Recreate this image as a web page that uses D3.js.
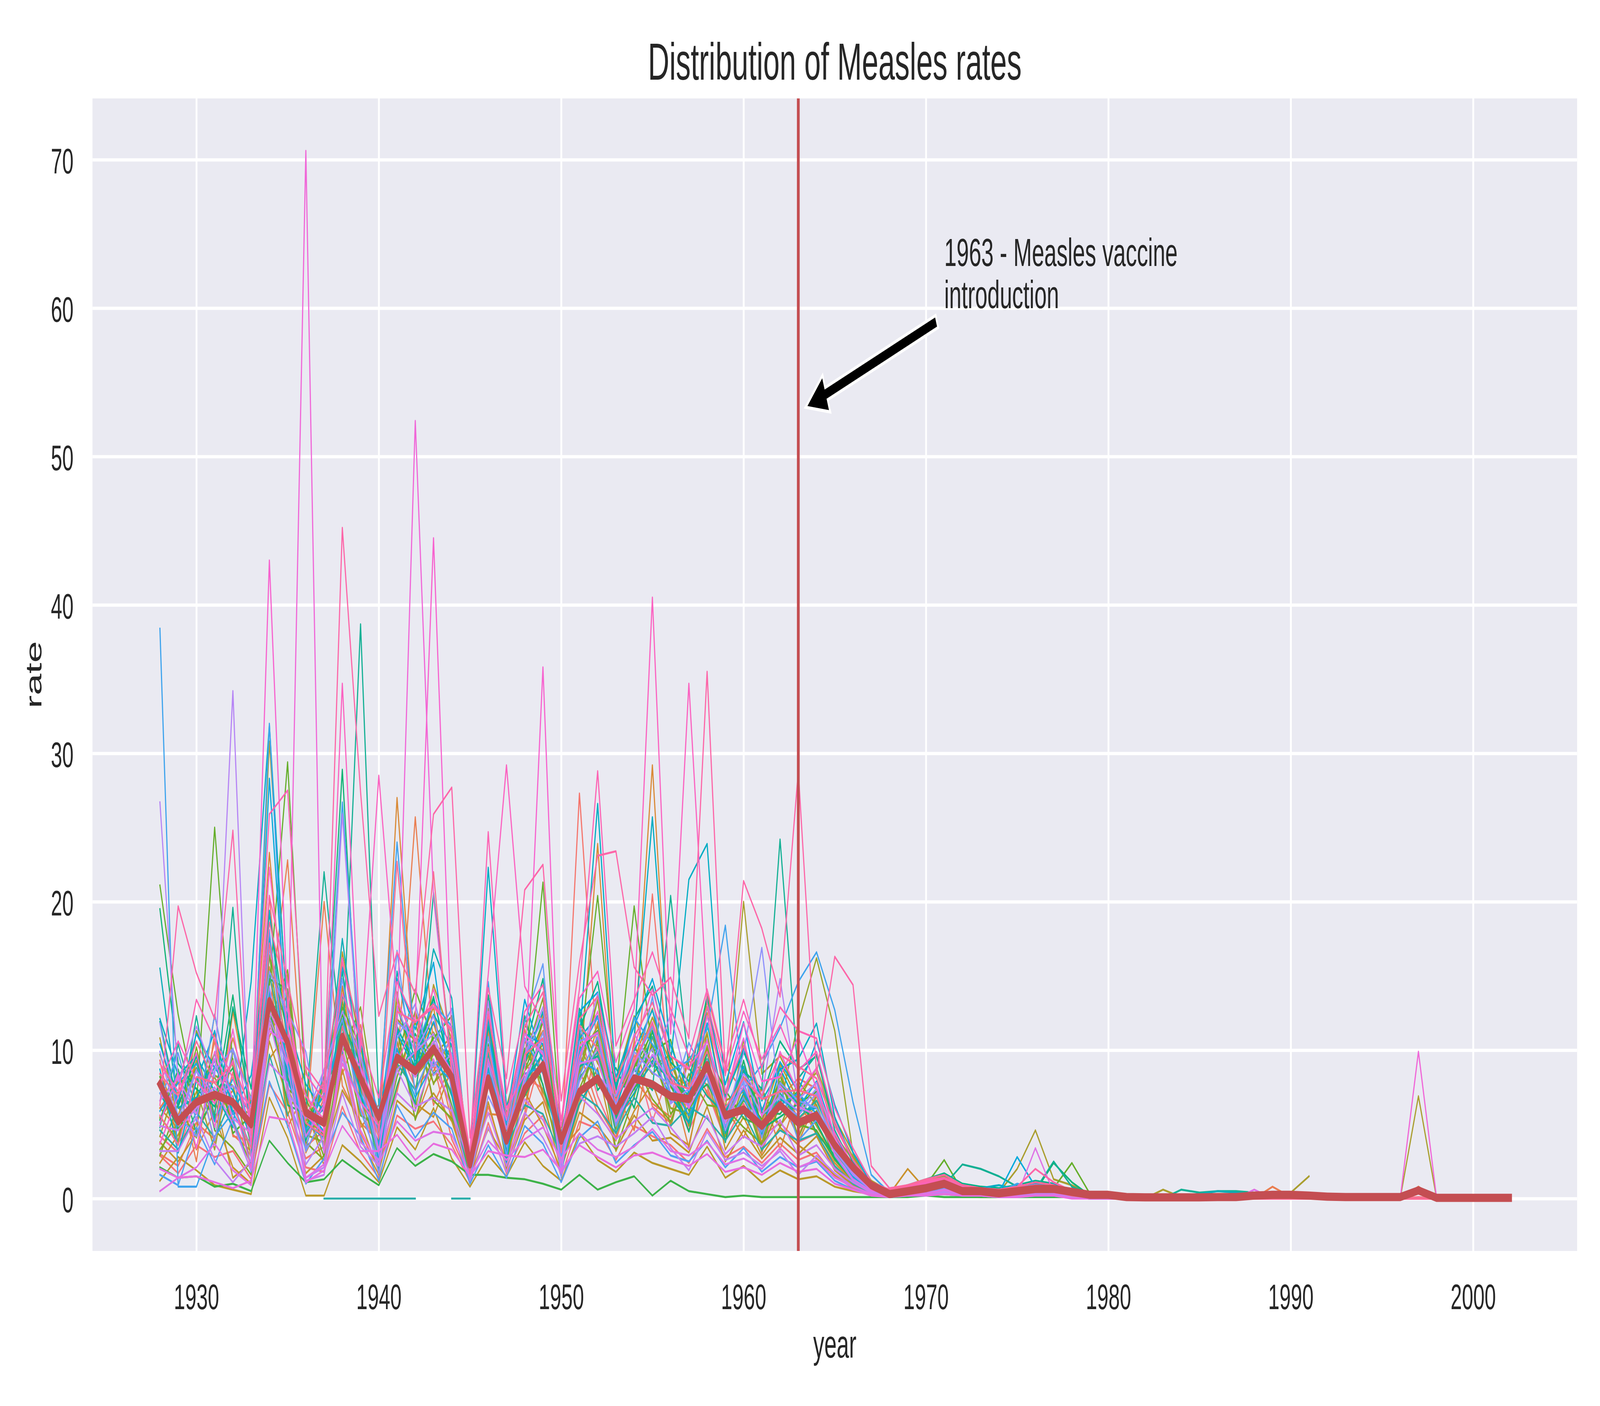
<!DOCTYPE html>
<html>
<head>
<meta charset="utf-8">
<script src="https://cdn.jsdelivr.net/npm/d3@7"></script>
<style>
  html, body { margin: 0; padding: 0; width: 100%; height: 100%; overflow: hidden; background: #ffffff; }
  #chart { width: 100vw; height: 100vh; }
  svg { display: block; width: 100%; height: 100%; }
  text { font-family: "Liberation Sans", Arial, "DejaVu Sans", sans-serif; fill: #262626; }
</style>
</head>
<body>
<div id="chart"></div>
<script>
// years 1928 .. 2002, one value per year in every state array
const years = d3.range(1928, 2003);
const xTicks = [1930, 1940, 1950, 1960, 1970, 1980, 1990, 2000];
const yTicks = [0, 10, 20, 30, 40, 50, 60, 70];

// per-state measles rates (one row = 25 years)
const st01 = [4.2,3.1,6.8,9.4,5.2, 2.8,14.1,8.3,3.5,4.6, 12.7,6.1,3.2,10.4,7.5, 8.9,6.2,1.8,9.6,3.1, 8.2,7.4,2.6,11.3,6.9,
  4.1,9.7,5.2,8.8,4.6, 7.3,3.9,6.4,4.2,5.1, 3.8,4.4,2.1,1.2,0.5, 0.2,0.3,0.4,0.8,0.3, 0.2,0.1,0.2,0.4,0.5,
  0.2,0.1,0.1,0,0, 0,0,0,0,0, 0,0.1,0.1,0,0, 0,0,0,0,0.1, 0,0,0,0,0];
const st29 = [2.9,1.7,3.6,2.8,3.2, 1.3,7.7,5.8,2.1,1.8, 6.2,3.1,1.4,5.6,4.7, 5.2,3.6,1.1,5.1,1.7, 4.4,5.6,1.5,5.2,4.7,
  2.6,4.9,4.2,3.6,2.4, 4.7,2.8,3.5,2.4,3.7, 2.6,3.1,1.5,0.7,0.3, 0.1,0.2,0.3,0.4,0.2, 0.2,0.1,0.2,0.3,0.2,
  0.1,0,0,0,0, 0,0,0,0,0, 0,0,0,0,0, 0,0,0,0,0, 0,0,0,0,0];
const st02 = [3.0,2.2,5.1,4.0,8.5, 1.8,20.4,6.4,2.7,3.5, 9.8,4.4,2.0,7.3,12.6, 9.1,4.0,1.3,6.2,2.4, 5.5,10.1,3.3,27.3,9.2,
  5.6,6.7,20.5,7.5,6.3, 13.8,8.9,7.2,3.6,6.8, 8.1,7.4,4.2,2.3,0.8, 0.3,0.5,0.6,0.9,0.4, 0.3,0.2,0.3,0.6,0.4,
  0.3,0.1,0.1,0,0, 0,0,0,0,0, 0,0.1,0,0,0, 0,0,0,0,0, 0,0,0,0,0];
const st35 = [9.3,3.8,5.1,10.6,4.2, 3.9,11.3,15.1,3.6,6.8, 8.4,11.7,3.9,7.2,12.6, 6.3,9.2,1.8,11.1,2.7, 5.8,12.1,2.6,9.9,6.2,
  4.1,10.6,6.2,5.1,9.3, 7.6,3.9,8.8,3.1,6.6, 4.2,7.1,3.3,1.9,0.7, 0.5,0.7,1.0,1.3,0.6, 0.5,0.4,0.6,0.8,0.7,
  0.3,0.1,0.1,0,0, 0,0,0,0,0, 0,0,0,0,0, 0,0,0,0,0, 0,0,0,0,0];
const st03 = [6.1,7.9,2.5,11.2,4.3, 3.2,12.5,22.8,4.9,20.0, 7.6,5.1,3.9,8.8,25.7, 10.2,5.3,2.1,11.4,4.0, 9.3,6.8,3.5,8.6,5.8,
  3.9,8.1,6.4,5.5,9.7, 7.1,4.6,6.9,5.2,7.7, 5.4,6.3,3.1,1.6,0.6, 0.3,0.4,0.5,0.7,0.3, 0.2,0.1,0.3,0.5,0.4,
  0.2,0.1,0.1,0,0, 0,0,0,0,0, 0,0.8,0.1,0,0, 0,0,0,0,0.8, 0,0,0,0,0];
const st36 = [5.4,7.2,3.3,5.9,10.8, 6.4,15.6,4.8,7.3,3.4, 13.5,4.8,6.3,11.6,5.3, 8.6,10.8,2.9,5.7,5.6, 11.4,6.9,3.3,4.7,10.8,
  7.2,4.6,10.9,8.3,3.4, 9.9,6.2,4.1,7.4,3.3, 7.1,4.4,3.2,1.6,0.8, 0.4,0.6,0.9,1.1,0.7, 0.4,0.3,0.5,0.7,0.6,
  0.2,0.1,0.1,0,0, 0,0,0,0,0, 0,0,0,0,0, 0,0,0,0,0, 0,0,0,0,0];
const st04 = [8.4,5.6,9.3,3.7,12.6, 6.2,23.3,9.8,3.1,5.7, 14.3,8.6,4.4,27.0,9.6, 11.8,7.9,2.9,8.3,5.5, 6.1,12.4,4.8,7.9,23.9,
  6.1,10.4,29.2,8.3,7.6, 12.5,5.3,8.2,6.1,4.9, 6.6,4.3,2.4,1.1,0.5, 0.2,0.3,0.4,0.6,0.2, 0.2,0.1,0.2,0.3,0.3,
  0.1,0.1,0,0,0, 0,0,0,0,0, 0,0.1,0,0,0, 0,0,0,0,0, 0,0,0,0,0];
const st37 = [6.1,4.7,9.2,5.5,7.3, 4.1,10.9,13.8,4.1,7.9, 14.2,6.6,4.4,8.8,9.7, 12.9,5.6,2.4,7.9,4.4, 9.1,11.3,3.7,6.4,11.9,
  5.6,9.3,12.8,6.6,7.8, 11.2,4.7,9.3,3.7,8.9, 3.8,6.6,4.3,2.6,1.0, 0.5,0.8,1.1,1.4,0.8, 0.6,0.5,0.7,0.9,0.8,
  0.3,0.2,0.1,0,0, 0,0,0,0,0, 0,0,0,0,0, 0,0,0,0,0, 0,0,0,0,0];
const st05 = [2.4,4.3,7.2,5.6,2.1, 1.0,9.4,11.2,6.3,2.2, 8.7,4.0,1.6,9.9,6.4, 5.5,8.8,1.5,4.7,2.6, 7.2,4.9,1.9,6.3,8.8,
  3.2,5.9,7.8,4.4,3.6, 9.1,3.3,5.5,2.9,4.8, 3.6,2.7,1.6,0.9,0.4, 0.3,2.0,0.6,0.5,0.4, 0.3,0.2,0.3,0.5,0.3,
  0.2,0.1,0.1,0,0, 0,0,0,0,0, 0,0,0,0,0, 0,0,0,0,0, 0,0,0,0,0];
const st30 = [3.8,2.5,4.4,6.9,1.4, 2.4,10.6,6.7,1.7,2.9, 7.3,5.2,1.8,6.6,5.5, 7.1,5.2,1.4,6.5,2.0, 5.3,6.5,2.0,5.8,4.9,
  3.3,5.6,3.9,4.1,3.1, 6.2,2.5,4.6,2.7,4.1, 3.0,4.2,1.9,0.9,0.4, 0.2,0.3,0.4,0.5,0.3, 0.2,0.2,0.2,0.4,0.3,
  0.1,0,0,0,0, 0.1,0,0,0,0, 0,0,0,0,0, 0,0,0,0,0, 0,0,0,0,0];
const st06 = [1.2,2.8,1.9,0.9,0.6, 0.3,6.8,4.1,0.2,0.2, 3.6,2.5,1.1,4.8,3.3, 6.1,2.7,0.8,2.9,1.5, 3.8,2.2,1.2,4.4,2.6,
  1.8,3.1,2.4,2.0,1.6, 3.5,1.4,2.2,1.1,1.9, 1.3,1.5,0.8,0.5,0.3, 0.1,0.2,0.2,0.3,0.2, 0.1,0.1,0.2,0.2,0.2,
  0.1,0,0,0,0, 0,0,0,0,0, 0,0,0,0,0, 0,0,0,0,0, 0,0,0,0,0];
const st38 = [10.8,5.3,4.6,12.4,6.2, 5.7,17.1,9.9,5.4,4.3, 16.6,10.3,3.1,13.9,7.2, 14.4,10.7,2.1,12.3,3.9, 8.6,10.4,3.8,12.1,9.1,
  7.8,12.3,8.9,9.7,5.4, 13.4,6.6,7.2,5.3,9.1, 6.6,8.8,5.4,3.1,1.2, 0.5,0.9,1.2,1.6,0.9, 0.7,0.6,0.8,1.1,0.9,
  0.4,0.2,0.1,0,0, 0,0,0,0,0, 0,0,0,0,0, 0,0,0,0,0, 0,0,0,0,0];
const st07 = [5.5,3.9,8.1,6.7,9.2, 4.4,30.8,12.3,5.2,6.9, 11.5,7.3,4.8,13.4,8.2, 9.7,10.9,2.4,12.1,3.7, 10.6,8.5,3.1,9.4,11.6,
  6.8,8.9,12.2,9.1,6.2, 10.3,5.9,20.0,8.4,9.6, 7.1,8.5,5.1,2.8,0.9, 0.4,0.6,0.8,1.0,0.6, 0.5,0.4,2.0,4.6,1.3,
  0.9,0.3,0.2,0,0, 0.6,0.1,0.1,0,0, 0.1,0.2,0.4,1.5,null, 0,0,0,0,6.9, 0,0,0,0,0];
const st39 = [4.2,8.1,7.4,3.3,9.9, 6.8,13.7,5.6,8.7,3.4, 11.9,7.4,5.2,10.6,6.1, 11.2,8.9,2.6,9.3,6.2, 10.7,7.2,4.4,10.3,7.7,
  6.4,7.7,11.6,4.8,9.6, 8.1,3.8,10.7,4.6,7.3, 6.8,4.9,2.8,1.3,0.6, 0.4,0.7,1.0,1.2,0.7, 0.5,0.4,0.6,0.8,0.7,
  0.3,0.1,0.1,0,0, 0,0,0,0,0, 0,0,0,0,0, 0,0,0,0,0, 0,0,0,0,0];
const st08 = [9.7,6.2,4.1,8.3,7.6, 2.9,16.4,7.5,4.3,3.8, 13.2,9.4,2.7,12.1,10.6, 7.8,9.1,1.9,7.7,4.8, 11.7,9.9,2.4,8.1,13.4,
  5.3,7.4,9.6,6.1,5.7, 11.1,4.2,7.6,3.4,6.2, 11.9,16.2,11.3,3.0,0.6, 0.2,0.4,0.5,0.7,0.3, 0.3,0.2,0.2,0.4,0.6,
  0.3,0.1,0.1,0,0, 0,0,0,0,0, 0,0,0,0,0, 0,0,0,0,0, 0,0,0,0,0];
const st40 = [7.6,3.8,11.3,8.2,5.1, 2.3,16.4,11.2,3.9,7.6, 9.8,12.9,4.8,8.9,12.6, 7.7,10.4,1.6,12.8,3.8, 9.2,12.6,2.1,8.6,13.4,
  4.7,10.2,8.4,9.8,4.9, 10.1,5.8,6.6,7.4,4.8, 7.9,6.3,3.1,1.8,0.7, 0.6,0.8,1.1,1.5,0.8, 0.6,0.5,0.7,1.0,0.8,
  0.3,0.2,0.1,0,0, 0,0,0,0,0, 0,0,0,0,0, 0,0,0,0,0, 0,0,0,0,0];
const st09 = [3.3,5.1,10.2,4.6,3.4, 1.6,11.8,15.4,3.8,2.6, 9.1,6.8,3.0,8.2,11.9, 6.6,5.4,2.7,10.1,2.2, 9.4,13.5,2.2,7.4,10.3,
  4.7,9.3,6.7,5.2,8.4, 6.3,6.1,4.8,3.7,8.3, 4.1,6.9,3.5,1.8,0.7, 0.3,0.4,0.6,0.8,0.4, 0.3,0.2,0.3,0.6,0.5,
  0.2,0.1,0.1,0,0, 0,0,0,0,0, 0,0,0,0,0, 0,0,0,0,0, 0,0,0,0,0];
const st41 = [2.9,6.4,8.8,6.6,9.4, 4.2,12.3,7.4,6.3,2.8, 10.7,5.6,4.9,11.4,5.3, 9.9,7.1,1.3,7.9,4.3, 10.1,7.7,2.1,6.8,10.6,
  3.3,6.9,10.4,5.7,7.2, 8.6,4.4,7.1,3.2,8.4, 4.7,5.9,2.6,1.2,0.5, 0.4,0.6,0.8,1.0,0.6, 0.5,0.4,0.5,0.7,0.6,
  0.2,0.1,0.1,0,0, 0,0,0,0,0, 0,0,0,0,0, 0,0,0,0,0, 0,0,0,0,0];
const st10 = [21.1,12.4,6.3,25.0,8.9, 3.6,14.2,29.4,6.7,4.1, 12.9,10.2,5.5,9.3,14.1, 10.6,6.3,2.2,13.7,5.1, 8.6,21.3,4.1,9.8,20.4,
  7.2,19.7,9.9,10.7,5.9, 8.4,4.5,6.6,5.4,7.9, 5.0,4.6,2.6,1.4,0.6, 0.3,0.5,0.9,2.6,0.5, 0.4,0.3,0.4,0.6,0.7,
  2.4,0.3,0.1,0,0, 0,0,0,0,0, 0,0,0,0,0, 0,0,0,0,0, 0,0,0,0,0];
const st42 = [8.2,4.6,6.7,9.8,4.4, 5.6,14.8,14.1,4.8,8.2, 12.4,7.9,2.6,9.6,8.9, 10.8,12.3,2.4,10.4,3.2, 8.6,11.9,2.9,12.4,8.1,
  6.7,8.8,11.2,7.6,5.1, 9.8,7.3,5.4,4.9,7.7, 6.4,7.2,3.8,1.5,0.6, 0.5,0.8,1.0,1.3,0.7, 0.6,0.5,0.6,0.9,0.7,
  0.3,0.1,0.1,0,0, 0,0,0,0,0, 0,0,0,0,0, 0,0,0,0,0, 0,0,0,0,0];
const st11 = [2.1,1.4,1.5,0.8,1.0, 0.5,3.9,2.4,1.1,1.3, 2.6,1.7,0.9,3.4,2.2, 3.0,2.5,1.6,1.6,1.4, 1.3,1.0,0.6,1.6,0.6,
  1.1,1.5,0.2,1.2,0.5, 0.3,0.1,0.2,0.1,0.1, 0.1,0.1,0.1,0.1,0.1, 0.1,0.1,0.2,0.1,0.1, 0.1,0.1,0.1,0.1,0.1,
  0.1,0,0,0,0, 0,0,0,0,0, 0,0,0,0,0, 0,0,0,0,0, 0,0,0,0,0];
const st43 = [5.3,8.7,4.4,7.1,8.8, 3.6,12.9,6.3,5.7,5.1, 11.9,9.1,3.1,7.6,11.1, 8.4,9.6,1.8,11.6,5.8, 6.9,9.3,2.6,9.9,11.3,
  5.6,7.4,9.1,8.1,6.7, 7.7,5.6,8.6,5.8,5.7, 7.3,4.4,2.9,1.2,0.4, 0.5,0.7,0.9,1.2,0.7, 0.5,0.4,0.6,0.8,0.6,
  0.2,0.1,0.1,0,0, 0,0,0,0,0, 0,0,0,0,0, 0,0,0,0,0, 0,0,0,0,0];
const st12 = [19.5,9.1,7.4,6.2,13.7, 5.3,17.6,8.2,4.5,7.9, 28.9,7.1,3.7,11.6,8.8, 13.5,8.4,2.0,9.2,3.9, 12.3,7.6,3.6,12.8,7.3,
  8.8,6.1,11.3,7.9,4.5, 9.9,3.8,9.3,4.7,5.5, 6.4,5.1,2.7,1.3,0.5, 0.2,0.3,0.4,1.3,0.6, 0.3,0.2,0.3,0.5,2.4,
  1.1,0.2,0.1,0,0, 0,0,0,0,0, 0,0,0,0,0, 0,0,0,0,0, 0,0,0,0,0];
const st44 = [11.9,6.2,9.6,4.7,12.9, 7.4,19.2,10.7,3.9,8.1, 15.3,6.8,4.7,12.9,9.4, 13.6,8.1,2.9,13.7,4.9, 9.9,14.8,3.2,11.4,14.6,
  7.3,12.1,14.3,9.2,7.9, 13.6,6.9,9.9,6.8,10.6, 8.7,9.6,5.2,2.4,0.9, 0.6,0.9,1.3,1.7,1.0, 0.8,0.7,0.9,1.2,1.0,
  0.4,0.2,0.2,0,0, 0,0,0,0,0, 0,0,0,0,0, 0,0,0,0,0, 0,0,0,0,0];
const st13 = [7.1,4.8,12.3,5.4,19.6, 3.1,13.4,10.7,5.9,22.0, 9.8,38.7,6.3,10.1,6.4, 20.6,9.2,2.5,11.8,4.5, 7.5,10.8,3.8,8.9,9.6,
  5.4,8.7,7.3,20.4,8.8, 6.9,5.7,8.6,7.4,24.2, 8.1,9.7,4.6,2.1,0.8, 0.4,0.6,1.2,0.9,2.3, 2.0,1.5,0.8,0.6,2.5,
  0.8,0.3,0.2,0,0, 0,0.6,0.4,0.5,0.5, 0.4,0.2,0.1,0,0, 0,0,0,0,0, 0,0,0,0,0];
const st45 = [4.8,10.4,5.9,8.9,6.6, 5.1,15.2,8.8,4.4,6.4, 12.1,8.3,1.9,9.1,7.3, 10.1,6.9,1.1,9.8,3.7, 7.8,9.7,1.6,8.1,9.9,
  4.4,8.1,10.9,6.9,5.2, 9.4,4.8,6.7,4.3,7.1, 5.4,6.6,3.6,1.9,0.8, 0.5,0.8,1.1,1.4,0.8, 0.6,0.5,0.7,0.9,0.8,
  0.3,0.1,0.1,0,0, 0,0,0,0,0, 0,0,0,0,0, 0,0,0,0,0, 0,0,0,0,0];
const st14 = [4.6,3.3,5.8,4.1,6.9, 2.2,9.7,5.6,null,0, 0,0,0,0,0, null,0,0,null,3.4, 6.3,5.7,2.9,7.1,6.2,
  4.4,6.8,5.1,4.9,6.2, 5.4,3.9,5.8,3.3,4.6, 3.9,4.4,2.2,1.0,0.4, 0.2,0.3,0.5,0.6,0.4, 0.6,0.3,0.3,0.4,0.3,
  0.2,0.1,0,0,0, 0,0,0,0,0, 0,0,0,0,0, 0,0,0,0,0, 0,0,0,0,0];
const st31 = [15.5,6.1,6.8,9.3,5.7, 6.5,19.4,8.6,4.7,6.1, 17.5,8.3,3.4,15.3,8.9, 16.8,13.5,1.6,8.8,3.1, 7.9,9.8,2.4,6.4,8.4,
  5.2,7.1,9.3,6.9,5.1, 8.8,4.4,7.1,5.0,6.7, 5.9,6.1,3.2,1.5,0.6, 0.2,0.4,0.6,1.0,0.5, 0.4,0.3,0.4,0.6,0.5,
  0.2,0.1,0.1,0,0, 0,0.2,0.3,0.5,0.4, 0.3,0.2,0.1,0,0, 0,0,0,0,0, 0,0,0,0,0];
const st15 = [12.1,8.3,9.6,7.2,4.8, 14.6,31.9,11.9,7.7,5.8, 10.5,8.1,4.2,11.4,9.3, 12.4,10.3,2.8,22.3,6.2, 9.1,12.6,4.3,10.7,26.6,
  7.6,10.9,25.7,9.2,21.5, 23.9,6.8,10.1,6.6,8.7, 9.4,11.8,5.5,2.5,0.9, 0.4,0.7,0.9,1.2,0.8, 0.7,0.9,0.6,0.7,1.0,
  0.5,0.2,0.3,0,0, 0,0,0,0,0, 0,0,0,0,0, 0,0,0,0,0, 0,0,0,0,0];
const st46 = [8.7,3.1,7.9,11.3,5.8, 8.3,17.7,7.9,5.1,4.1, 13.7,10.9,2.4,11.2,8.6, 11.9,9.3,1.7,12.1,2.4, 11.1,10.4,2.2,10.8,12.3,
  6.1,9.9,12.7,8.4,6.9, 11.8,5.9,8.9,4.4,8.8, 6.1,7.9,4.1,2.2,0.8, 0.6,0.8,1.0,1.4,0.8, 0.7,0.6,0.7,1.0,0.8,
  0.3,0.2,0.1,0,0, 0,0,0,0,0, 0,0,0,0,0, 0,0,0,0,0, 0,0,0,0,0];
const st16 = [10.4,6.5,11.1,8.8,7.3, 4.1,28.3,10.2,6.1,4.5, 15.6,11.2,4.6,14.8,11.4, 15.9,7.1,2.3,10.9,5.4, 13.4,9.1,3.4,12.6,13.9,
  8.2,11.6,14.8,10.3,7.1, 12.9,7.7,11.9,5.9,9.2, 7.2,10.6,6.3,3.1,1.0, 0.4,0.6,0.7,0.8,0.5, 0.6,0.4,2.8,0.8,0.6,
  0.3,0.1,0.1,0,0, 0,0,0,0,0, 0,0,0,0,0, 0,0,0,0,0, 0,0,0,0,0];
const st47 = [5.9,7.8,9.1,5.2,8.1, 4.8,13.9,9.3,4.6,7.1, 11.1,7.1,3.7,10.1,6.8, 9.2,7.9,2.2,8.6,5.1, 8.4,8.9,2.9,9.3,8.6,
  5.1,7.9,9.6,7.8,5.6, 8.2,6.2,7.3,5.1,6.3, 7.1,5.7,3.4,1.4,0.6, 0.5,0.7,0.9,1.1,0.7, 0.5,0.4,0.6,0.8,0.7,
  0.2,0.1,0.1,0,0, 0,0,0,0,0, 0,0,0,0,0, 0,0,0,0,0, 0,0,0,0,0];
const st17 = [38.4,0.8,0.8,4.2,5.8, 3.5,32.0,9.1,4.1,6.3, 26.7,9.6,5.8,24.0,10.1, 13.2,11.6,1.2,14.6,3.6, 10.8,8.4,2.9,9.9,12.2,
  6.4,12.2,10.4,8.6,9.3, 11.4,18.4,7.4,9.0,11.5, 14.6,16.6,12.7,6.5,1.6, 0.4,0.6,0.8,0.9,0.6, 0.5,0.4,1.0,0.7,0.5,
  0.3,0.1,0.1,0,0, 0,0,0,0,0, 0,0,0,0,0, 0,0,0,0,0, 0,0,0,0,0];
const st32 = [1.6,0.9,4.8,2.3,5.4, 1.8,7.9,4.9,1.0,2.7, 5.8,4.2,1.2,6.3,4.1, 5.8,4.7,1.0,3.6,1.4, 4.9,3.7,1.1,4.1,5.2,
  2.4,3.6,4.5,2.9,2.5, 3.9,2.1,3.4,1.8,2.8, 2.1,2.5,1.2,0.6,0.3, 0.1,0.2,0.2,0.3,0.2, 0.2,0.1,0.1,0.2,0.2,
  0.1,0,0,0,0, 0,0,0,0,0, 0,0.3,0,0,0, 0,0,0,0,0, 0,0,0,0,0];
const st18 = [6.6,9.8,5.2,12.4,6.3, 3.5,18.1,6.9,3.3,8.7, 12.1,5.9,2.5,16.7,7.1, 10.4,12.8,1.7,8.4,2.9, 11.9,15.8,2.7,8.3,10.9,
  4.9,7.8,13.6,6.4,10.5, 8.1,4.9,6.8,4.5,7.6, 3.9,5.3,3.4,1.6,0.6, 0.3,0.4,0.6,0.7,0.4, 0.3,0.3,0.4,0.5,0.5,
  0.2,0.1,0.1,0,0, 0,0,0,0,0, 0,0,0,0,0, 0,0,0,0,0, 0,0,0,0,0];
const st48 = [7.1,5.6,4.2,8.6,10.1, 3.9,16.8,11.7,3.2,5.6, 14.8,7.7,2.9,11.9,10.8, 8.9,10.8,1.5,10.9,3.5, 9.6,12.1,1.4,10.6,11.1,
  4.9,9.1,11.6,7.1,6.3, 10.7,5.3,7.9,4.1,7.8, 6.6,6.1,3.7,1.7,0.7, 0.5,0.8,1.0,1.3,0.8, 0.6,0.5,0.7,0.9,0.7,
  0.3,0.1,0.1,0,0, 0,0,0,0,0, 0,0,0,0,0, 0,0,0,0,0, 0,0,0,0,0];
const st19 = [11.8,5.4,8.7,3.9,10.1, 6.7,15.3,12.6,9.9,3.1, 9.4,6.7,1.7,10.8,13.1, 8.3,9.8,1.4,6.9,4.4, 7.8,11.2,2.1,11.6,8.3,
  6.9,9.9,8.5,7.7,6.4, 9.3,5.2,9.8,16.9,6.4, 5.6,7.1,2.9,1.2,0.5, 0.2,0.3,0.4,0.6,0.3, 0.3,0.2,0.3,0.4,0.4,
  0.2,0.1,0,0,0, 0,0,0,0,0, 0,0,0,0,0, 0,0,0,0,0, 0,0,0,0,0];
const st49 = [9.9,4.9,8.6,6.9,7.6, 6.2,14.3,7.1,5.4,8.7, 12.6,9.6,4.1,8.7,9.9, 12.3,7.4,2.3,9.1,4.7, 10.7,9.9,2.4,7.9,10.2,
  5.9,8.6,10.1,6.4,7.4, 9.1,4.6,8.1,5.6,6.9, 5.9,7.4,3.2,1.6,0.6, 0.5,0.7,1.0,1.2,0.7, 0.5,0.4,0.6,0.8,0.7,
  0.2,0.1,0.1,0,0, 0,0,0,0,0, 0,0,0,0,0, 0,0,0,0,0, 0,0,0,0,0];
const st20 = [26.7,7.9,11.6,8.2,34.2, 2.5,12.2,8.9,2.3,4.2, 25.9,8.8,3.1,12.9,9.9, 11.1,7.6,2.6,13.3,4.1, 9.7,12.9,3.7,9.1,13.8,
  6.2,11.1,8.9,12.4,7.3, 10.7,5.5,8.4,6.8,14.8, 6.7,7.8,3.7,1.7,0.6, 0.3,0.5,0.6,0.9,0.5, 0.4,0.3,0.4,0.5,0.6,
  0.3,0.1,0.1,0,0, 0,0,0,0,0, 0,0,0,0,0, 0,0,0,0,0, 0,0,0,0,0];
const st33 = [3.2,3.2,5.5,2.6,1.1, 2.6,9.1,7.8,1.4,2.1, 7.1,3.5,2.2,8.7,6.2, 6.8,5.9,1.2,4.8,1.8, 5.8,4.1,1.7,3.7,4.2,
  3.5,4.4,5.5,3.4,1.9, 4.5,2.6,3.1,2.2,3.2, 1.6,2.9,1.7,0.8,0.3, 0.2,0.2,0.3,0.4,0.2, 0.2,0.1,0.2,0.3,0.2,
  0.1,0,0,0,0, 0,0,0,0,0, 0,0,0,0,0, 0,0,0,0,0, 0,0,0,0,0];
const st21 = [4.9,4.6,6.1,7.5,5.0, 1.9,11.9,7.3,1.2,1.6, 9.6,3.8,2.6,7.1,5.9, 9.4,6.1,2.1,5.8,2.2, 6.7,5.3,2.4,6.9,5.7,
  4.0,5.2,6.1,4.8,3.3, 5.6,3.0,4.2,3.5,5.3, 2.9,3.6,2.0,1.1,0.4, 0.2,0.3,0.4,0.5,0.3, 0.3,0.2,0.2,0.3,0.3,
  0.1,0,0,0,0, 0,0,0,0,0, 0,0,0,0,0, 0,0,0,0,0, 0,0,0,0,0];
const st50 = [6.6,8.1,5.7,9.4,5.4, 4.4,12.6,10.2,4.2,6.3, 10.4,8.9,3.3,9.8,8.2, 10.6,8.6,1.9,10.2,4.1, 8.1,10.8,1.8,9.1,9.4,
  5.2,7.6,9.7,7.9,6.1, 8.4,5.1,7.6,4.7,7.6, 6.2,5.6,3.0,1.3,0.5, 0.5,0.7,0.9,1.2,0.7, 0.5,0.4,0.6,0.8,0.7,
  0.2,0.1,0.1,0,0, 0,0,0,0,0, 0,0,0,0,0, 0,0,0,0,0, 0,0,0,0,0];
const st22 = [0.5,1.4,2.1,3.7,1.9, 0.9,11.3,10.4,1.4,2.3, 10.2,4.6,2.3,5.2,3.9, 4.5,4.3,1.6,3.9,2.6, 4.0,4.8,2.7,4.4,3.3,
  2.8,3.5,4.7,3.2,2.9, 3.8,2.3,2.7,2.0,3.4, 2.1,2.6,1.4,0.8,0.3, 0.2,0.3,0.3,0.6,0.3, 0.3,0.2,0.2,3.4,0.4,
  0.2,0.1,0,0,0, 0,0,0,0,0, 0.6,0,0,0,0, 0,0,0,0,0, 0,0,0,0,0];
const st34 = [2.0,1.4,1.5,1.1,0.7, 1.2,5.5,5.3,1.1,1.9, 4.9,3.2,3.2,4.3,2.6, 3.7,3.3,1.5,3.2,2.9, 2.8,3.3,1.9,3.6,2.8,
  2.1,2.9,3.1,2.6,2.2, 3.0,1.8,2.1,1.6,2.4, 1.8,2.0,1.0,0.6,0.2, 0.1,0.2,0.2,0.3,0.2, 0.2,0.1,0.1,0.2,0.2,
  0,0,0,0,0, 0,0,0,0,0, 0,0,0,0,0, 0,0,0,0,0, 0,0,0,0,0];
const st23 = [5.1,8.4,3.4,9.9,6.7, 2.1,13.5,9.1,70.6,3.1, 9.1,6.5,4.9,11.5,52.4, 20.3,8.9,1.9,9.4,5.3, 11.1,9.7,4.2,10.3,11.2,
  5.8,9.1,11.9,8.2,6.1, 12.3,7.2,10.8,5.5,9.9, 7.1,8.8,4.1,1.9,0.6, 0.3,0.4,0.6,0.8,0.5, 0.4,0.3,0.4,0.6,0.5,
  0.3,0.1,0.1,0,0, 0,0,0,0,0, 0,0,0,0,0, 0,0,0,0,9.9, 0,0,0,0,0];
const st24 = [3.7,6.9,9.8,4.8,11.4, 4.6,43.0,12.7,5.6,4.4, 16.2,8.9,5.6,9.1,12.1, 44.5,10.6,2.4,12.6,6.1, 8.4,35.8,3.5,9.6,12.6,
  7.1,10.2,14.1,9.6,8.8, 10.6,6.6,11.8,7.9,8.2, 10.9,7.4,4.4,2.2,0.8, 0.4,0.6,0.8,1.1,0.6, 0.5,0.4,0.5,0.7,0.6,
  0.3,0.1,0.1,0,0, 0,0,0,0,0, 0,0,0,0,0, 0,0,0,0,0, 0,0,0,0,0];
const st25 = [7.8,10.6,7.9,6.4,9.3, 3.8,22.3,11.4,6.9,5.3, 34.7,9.9,28.5,13.3,10.6, 14.1,9.5,2.9,15.1,29.2, 14.3,11.8,4.9,13.5,15.3,
  9.2,12.8,40.5,11.1,34.7, 13.2,8.4,12.6,9.4,11.7, 8.6,9.9,5.2,2.6,0.9, 0.5,0.7,1.0,1.2,0.8, 0.6,0.5,0.6,0.8,0.7,
  0.4,0.1,0.2,0,0, 0,0,0,0,0, 0,0,0,0,0, 0,0,0,0,0, 0,0,0,0,0];
const st26 = [9.1,7.2,13.4,10.7,8.1, 5.5,25.9,27.5,8.4,6.6, 13.8,10.7,6.8,14.6,11.9, 12.9,11.4,3.1,24.7,7.1, 12.6,14.4,5.3,14.1,28.8,
  10.3,13.4,16.6,12.8,9.6, 14.1,9.1,13.4,8.8,12.9, 11.3,10.8,6.1,3.4,1.1, 0.6,0.8,1.1,1.3,0.7, 0.6,0.5,0.7,0.9,0.8,
  0.4,0.2,0.1,0,0, 0,0,0,0,0, 0.2,0,0,0,0, 0,0,0,0,0, 0,0,0,0,0];
const st27 = [6.3,19.7,15.2,12.1,24.8, 4.3,20.4,14.6,8.9,7.2, 45.2,27.4,12.3,16.6,13.8, 25.9,27.7,4.1,14.2,8.1, 20.8,22.5,6.6,15.9,23.1,
  23.4,15.6,13.7,14.9,10.8, 35.5,8.3,21.4,18.2,13.6, 28.8,8.4,16.3,14.4,2.2, 0.7,0.9,1.2,1.4,0.9, 0.7,0.6,0.8,2.0,1.1,
  0.5,0.2,0.1,0,0, 0,0,0,0,0, 0,0,0,0,0, 0,0,0,0,0, 0,0,0,0,0];
const st51 = [8.4,6.9,10.6,7.8,9.1, 5.9,18.6,13.4,5.6,7.9, 15.9,11.1,4.6,12.6,11.9, 13.1,11.2,2.8,12.4,5.6, 11.6,13.9,3.1,12.1,13.6,
  7.9,10.9,13.2,9.6,8.7, 12.9,7.1,10.3,6.9,9.7, 8.9,8.1,4.9,2.6,1.0, 0.6,0.9,1.3,1.6,0.9, 0.7,0.6,0.8,1.1,0.9,
  0.4,0.2,0.1,0,0, 0,0,0,0,0, 0,0,0,0,0, 0,0,0,0,0, 0,0,0,0,0];
const st28 = [5.6,3.6,8.2,7.8,6.2, 3.4,17.2,9.6,5.1,4.2, 11.6,7.7,4.1,22.7,9.4, 22.0,8.2,1.7,10.2,4.3, 9.7,10.8,3.2,11.7,10.1,
  6.6,9.3,11.8,7.8,7.4, 9.9,6.1,8.1,6.7,7.2, 7.3,6.9,3.9,1.9,0.7, 0.3,0.5,0.7,0.9,0.5, 0.4,0.3,0.4,0.6,0.5,
  0.2,0.1,0.1,0,0, 0,0,0,0,0, 0,0,0,0,0, 0,0,0,0,0, 0,0,0,0,0];

// yearly average across states (thick red line)
const meanRate = [7.7,5.2,6.5,7.0,6.5, 5.0,13.3,10.5,5.8,5.1, 10.9,8.1,5.5,9.5,8.6, 10.1,8.2,2.3,8.1,3.9, 7.4,9.0,3.9,7.2,8.1,
  5.9,8.1,7.7,6.9,6.7, 9.0,5.6,6.0,4.9,6.3, 5.1,5.6,3.6,2.1,0.9, 0.3,0.5,0.7,1.0,0.5, 0.5,0.35,0.5,0.65,0.65,
  0.45,0.25,0.25,0.1,0.08, 0.08,0.08,0.08,0.1,0.1, 0.2,0.25,0.25,0.2,0.13, 0.1,0.1,0.1,0.1,0.55, 0.05,0.05,0.05,0.05,0.05];

// states in hue order (51 of them), each one takes the next slot of the palette
const states = [st01, st29, st02, st35, st03, st36, st04, st37, st05, st30, st06, st38, st07, st39, st08, st40, st09,
  st41, st10, st42, st11, st43, st12, st44, st13, st45, st14, st31, st15, st46, st16, st47, st17, st32, st18, st48,
  st19, st49, st20, st33, st21, st50, st22, st34, st23, st24, st25, st26, st27, st51, st28];

const vaccineYear = 1963;
const noteLines = ["1963 - Measles vaccine", "introduction"];
const noteTarget = [1963, 53];
const noteTextAt = [1971, 60];

// husl anchors (seaborn husl_palette(8)), interpolated for more hues
const huslAnchors = ['#f77189', '#d58c32', '#a4a031', '#50b131', '#36ada4', '#3ba3ec', '#bb83f4', '#f564d4'];
function huslColor(slot, n) {
  const p = (slot / n) * huslAnchors.length;
  const k = Math.floor(p);
  return d3.interpolateHcl(huslAnchors[k % 8], huslAnchors[(k + 1) % 8])(p - k);
}

const W = 7200, H = 3600;
const plot = { left: 416, right: 7097, top: 252, bottom: 3203 };

const svg = d3.select("#chart").append("svg")
  .attr("viewBox", `0 0 ${W} ${H}`)
  .attr("preserveAspectRatio", "none");

svg.append("rect").attr("width", W).attr("height", H).attr("fill", "#ffffff");

const xPad = (years[years.length - 1] - years[0]) * 0.05;
const x = d3.scaleLinear()
  .domain([years[0] - xPad, years[years.length - 1] + xPad])
  .range([plot.left, plot.right]);

const yMax = d3.max(states, s => d3.max(s));
const yPad = yMax * 0.05;
const y = d3.scaleLinear()
  .domain([-yPad, yMax + yPad])
  .range([plot.bottom, plot.top]);

// axes background
svg.append("rect")
  .attr("x", plot.left).attr("y", plot.top)
  .attr("width", plot.right - plot.left).attr("height", plot.bottom - plot.top)
  .attr("fill", "#eaeaf2");

// grid + tick labels
const xAxis = svg.append("g")
  .attr("transform", `translate(0,${plot.bottom})`)
  .call(d3.axisBottom(x).tickValues(xTicks).tickFormat(d3.format("d"))
    .tickSize(-(plot.bottom - plot.top)).tickPadding(84));
xAxis.select(".domain").remove();
xAxis.selectAll("line").attr("stroke", "#ffffff").attr("stroke-width", 8.3);
xAxis.selectAll("text").attr("font-size", 91.7).attr("fill", "#262626")
  .attr("font-family", '"Liberation Sans", Arial, sans-serif');

const yAxis = svg.append("g")
  .attr("transform", `translate(${plot.left},0)`)
  .call(d3.axisLeft(y).tickValues(yTicks).tickFormat(d3.format("d"))
    .tickSize(-(plot.right - plot.left)).tickPadding(85));
yAxis.select(".domain").remove();
yAxis.selectAll("line").attr("stroke", "#ffffff").attr("stroke-width", 8.3);
yAxis.selectAll("text").attr("font-size", 91.7).attr("fill", "#262626").attr("dy", "0.38em")
  .attr("font-family", '"Liberation Sans", Arial, sans-serif');

// clip to axes
svg.append("clipPath").attr("id", "plot-clip")
  .append("rect")
  .attr("x", plot.left).attr("y", plot.top)
  .attr("width", plot.right - plot.left).attr("height", plot.bottom - plot.top);

const lines = svg.append("g").attr("clip-path", "url(#plot-clip)");

const line = d3.line()
  .defined(d => d.v != null)
  .x(d => x(d.year))
  .y(d => y(d.v));

const toPoints = arr => years.map((yr, i) => ({ year: yr, v: arr[i] === undefined ? null : arr[i] }));

// one thin line per state
lines.selectAll(".state")
  .data(states)
  .enter()
  .append("path")
  .attr("class", "state")
  .attr("d", s => line(toPoints(s)))
  .attr("fill", "none")
  .attr("stroke", (s, i) => huslColor(i, states.length))
  .attr("stroke-width", 5.2)
  .attr("stroke-linejoin", "round")
  .attr("stroke-linecap", "square");

// average line
lines.append("path")
  .attr("d", line(toPoints(meanRate)))
  .attr("fill", "none")
  .attr("stroke", "#c44e52")
  .attr("stroke-width", 21)
  .attr("stroke-linejoin", "round")
  .attr("stroke-linecap", "square");

// vaccine year marker
lines.append("line")
  .attr("x1", x(vaccineYear)).attr("x2", x(vaccineYear))
  .attr("y1", plot.top).attr("y2", plot.bottom)
  .attr("stroke", "#c44e52")
  .attr("stroke-width", 12.5);

// annotation text
const tx = x(noteTextAt[0]), ty = y(noteTextAt[1]);
const lineGap = 108;
const noteText = svg.append("text")
  .attr("x", tx).attr("y", ty - lineGap * (noteLines.length - 1))
  .attr("font-size", 100);
noteLines.forEach((t, i) => {
  noteText.append("tspan").attr("x", tx).attr("dy", i === 0 ? 0 : lineGap).text(t);
});

// arrow from the text corner to the target, shrunk 5% at both ends
const begin = [tx, ty + 22];
const end = [x(noteTarget[0]), y(noteTarget[1])];
const dx = begin[0] - end[0], dy = begin[1] - end[1];
const len = Math.hypot(dx, dy);
const ux = dx / len, uy = dy / len;      // tip -> tail direction
const tip = [end[0] + ux * len * 0.05, end[1] + uy * len * 0.05];
const tail = [begin[0] - ux * len * 0.05, begin[1] - uy * len * 0.05];
const nx = -uy, ny = ux;
const shaftW = 33, headW = 100, headL = 100;
const hb = [tip[0] + ux * headL, tip[1] + uy * headL];
const arrowPts = [
  [tail[0] + nx * shaftW / 2, tail[1] + ny * shaftW / 2],
  [hb[0] + nx * shaftW / 2, hb[1] + ny * shaftW / 2],
  [hb[0] + nx * headW / 2, hb[1] + ny * headW / 2],
  tip,
  [hb[0] - nx * headW / 2, hb[1] - ny * headW / 2],
  [hb[0] - nx * shaftW / 2, hb[1] - ny * shaftW / 2],
  [tail[0] - nx * shaftW / 2, tail[1] - ny * shaftW / 2]
];
svg.append("polygon")
  .attr("points", arrowPts.map(p => p.join(",")).join(" "))
  .attr("fill", "#000000")
  .attr("stroke", "#ffffff")
  .attr("stroke-width", 8)
  .attr("stroke-linejoin", "miter");

// titles
svg.append("text")
  .attr("x", (plot.left + plot.right) / 2).attr("y", 204)
  .attr("text-anchor", "middle")
  .attr("font-size", 133.3)
  .text("Distribution of Measles rates");

svg.append("text")
  .attr("x", (plot.left + plot.right) / 2).attr("y", 3476)
  .attr("text-anchor", "middle")
  .attr("font-size", 100)
  .text("year");

svg.append("text")
  .attr("transform", `translate(186,${(plot.top + plot.bottom) / 2}) rotate(-90)`)
  .attr("text-anchor", "middle")
  .attr("font-size", 100)
  .text("rate");
</script>
</body>
</html>
